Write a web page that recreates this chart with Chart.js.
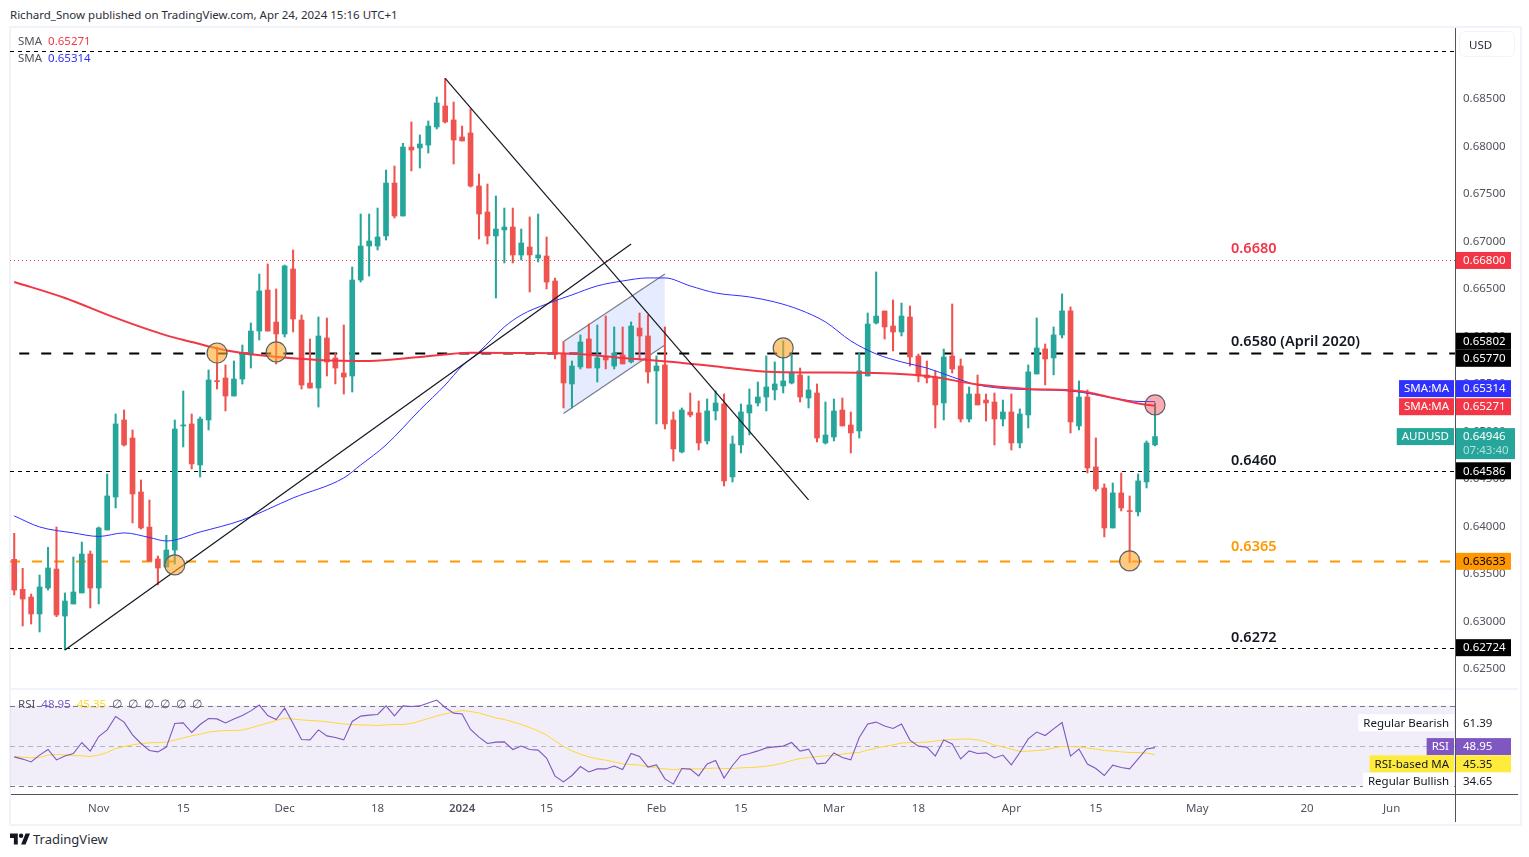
<!DOCTYPE html>
<html>
<head>
<meta charset="utf-8">
<title>AUDUSD</title>
<script src="https://cdn.jsdelivr.net/npm/chart.js@4"></script>
<style>
    html, body { margin: 0; padding: 0; background: #fff; }
    body { width: 1529px; height: 857px; position: relative; overflow: hidden; font-family: "Noto Sans", sans-serif; color: #50535e; }
    .abs { position: absolute; white-space: nowrap; }
    canvas { position: absolute; }
    .small { font-size: 11.5px; line-height: 14px; }
</style>
</head>
<body>
<div class="abs" style="left:9px;top:26px;width:1509px;height:796px;border:2px solid #f0f3fa"></div>
<div class="abs" style="left:11px;top:688px;width:1507px;height:2px;background:#f0f3fa"></div>

<div style="position:absolute;left:10px;top:28px;width:1509px;height:661px"><canvas id="price-chart"></canvas></div>
<div style="position:absolute;left:10px;top:690px;width:1509px;height:132px"><canvas id="rsi-chart"></canvas></div>

<div class="abs" style="left:1455px;top:28px;width:1px;height:794px;background:#50535e"></div>
<div class="abs" style="left:11px;top:794px;width:1507px;height:1px;background:#50535e"></div>

<div class="abs small" style="left:10px;top:8px;color:#2a2e39">Richard_Snow published on TradingView.com, Apr 24, 2024 15:16 UTC+1</div>
<div class="abs small" style="left:18px;top:34px">SMA&nbsp; <span style="color:#f23645">0.65271</span></div>
<div class="abs small" style="left:18px;top:51px">SMA&nbsp; <span style="color:#3030ff">0.65314</span></div>
<div class="abs small" style="left:18px;top:697px">RSI&nbsp; <span style="color:#7e57c2">48.95</span>&nbsp; <span style="color:#fdd835">45.35</span>&nbsp; &#8709;&nbsp; &#8709;&nbsp; &#8709;&nbsp; &#8709;&nbsp; &#8709;&nbsp; &#8709;</div>
<div class="abs small" style="left:1459px;top:31px;width:54px;height:24px;border:1px solid #f0f3fa;border-radius:6px;line-height:25px;text-indent:9px;color:#2a2e39">USD</div>

<svg class="abs" style="left:10px;top:833px" width="20" height="12" viewBox="0 0 36 20">
    <path fill="#131722" d="M14 20H7V8H0V0h14v20zM28 20h-8L28 0h8l-8 20z"></path>
    <circle fill="#131722" cx="20" cy="4" r="4"></circle>
</svg>
<div class="abs" style="left:33px;top:831px;font-size:13px;line-height:17px;color:#2a2e39">TradingView</div>

<script>
// x axis is one slot per trading day, with room on the right for the future dates
const dayCount = 171;
const days = Array.from({ length: dayCount }, (_, i) => i);
const tickDays = [10, 20, 32, 43, 53, 63, 76, 86, 97, 107, 118, 128, 140, 153, 163];
const tickLabels = ['Nov', '15', 'Dec', '18', '2024', '15', 'Feb', '15', 'Mar', '18', 'Apr', '15', 'May', '20', 'Jun'];
const priceTicks = [0.625, 0.63, 0.635, 0.64, 0.645, 0.65, 0.655, 0.66, 0.665, 0.67, 0.675, 0.68, 0.685];

const opens = [
    0.63654, 0.63338, 0.63257, 0.63079, 0.63352, 0.63552, 0.63057, 0.63184, 0.63300, 0.63710,
    0.63352, 0.63963, 0.64310, 0.65121, 0.64931, 0.64363, 0.63994, 0.63658, 0.63573, 0.63752,
    0.65058, 0.65079, 0.64647, 0.65121, 0.65531, 0.65563, 0.65373, 0.65552, 0.65805, 0.66057,
    0.66489, 0.66152, 0.66026, 0.66710, 0.66173, 0.65510, 0.65457, 0.65984, 0.65773, 0.65615,
    0.65584, 0.66594, 0.66952, 0.66952, 0.67058, 0.67615, 0.67268, 0.67994, 0.67984, 0.68015,
    0.68205, 0.68426, 0.68279, 0.68100, 0.68142, 0.67584, 0.67310, 0.67058, 0.67121, 0.67152,
    0.66858, 0.66942, 0.66826, 0.66847, 0.66584, 0.65823, 0.65500, 0.65679, 0.65974, 0.65668,
    0.65781, 0.65689, 0.65805, 0.65732, 0.66089, 0.66005, 0.65637, 0.65700, 0.65121, 0.64784,
    0.65205, 0.65195, 0.64900, 0.65216, 0.65289, 0.64521, 0.64858, 0.65195, 0.65300, 0.65363,
    0.65437, 0.65479, 0.65510, 0.65594, 0.65352, 0.65405, 0.64879, 0.64942, 0.65226, 0.65068,
    0.65005, 0.65584, 0.66142, 0.66268, 0.66110, 0.66047, 0.66205, 0.65794, 0.65594, 0.65573,
    0.65300, 0.65794, 0.65689, 0.65131, 0.65394, 0.65331, 0.65310, 0.65131, 0.65205, 0.64879,
    0.65174, 0.65605, 0.65869, 0.65774, 0.66016, 0.66269, 0.65058, 0.65363, 0.64627, 0.64405,
    0.63984, 0.64353, 0.64163, 0.64153, 0.64469, 0.64858
];
const highs = [
    0.63928, 0.63559, 0.63289, 0.63489, 0.63780, 0.63994, 0.63300, 0.63679, 0.63836, 0.63742,
    0.63994, 0.64552, 0.65184, 0.65226, 0.65016, 0.64489, 0.64279, 0.63689, 0.63907, 0.65121,
    0.65426, 0.65184, 0.65152, 0.65647, 0.65889, 0.65700, 0.65742, 0.65910, 0.66142, 0.66657,
    0.66763, 0.66500, 0.66752, 0.66910, 0.66226, 0.65973, 0.66205, 0.66194, 0.65822, 0.66121,
    0.66731, 0.67289, 0.67289, 0.67352, 0.67752, 0.67794, 0.68033, 0.68258, 0.68121, 0.68268,
    0.68521, 0.68717, 0.68468, 0.68215, 0.68394, 0.67710, 0.67605, 0.67479, 0.67352, 0.67352,
    0.67131, 0.67258, 0.67289, 0.67047, 0.66615, 0.65946, 0.65742, 0.66016, 0.66132, 0.66121,
    0.66216, 0.66100, 0.66100, 0.66153, 0.66247, 0.66226, 0.65795, 0.66100, 0.65205, 0.65247,
    0.65405, 0.65321, 0.65342, 0.65426, 0.65395, 0.64953, 0.65289, 0.65447, 0.65521, 0.65795,
    0.65732, 0.65953, 0.65805, 0.65668, 0.65584, 0.65500, 0.65310, 0.65342, 0.65352, 0.65205,
    0.65822, 0.66247, 0.66679, 0.66268, 0.66384, 0.66352, 0.66321, 0.65815, 0.65742, 0.65637,
    0.65868, 0.66342, 0.65763, 0.65468, 0.65594, 0.65394, 0.65405, 0.65331, 0.65395, 0.65237,
    0.65700, 0.66195, 0.65921, 0.66100, 0.66448, 0.66311, 0.65532, 0.65437, 0.64932, 0.64448,
    0.64458, 0.64563, 0.64321, 0.64553, 0.64900, 0.65300
];
const lows = [
    0.63279, 0.62952, 0.62973, 0.62889, 0.63331, 0.63050, 0.62700, 0.63184, 0.63300, 0.63142,
    0.63184, 0.63963, 0.64195, 0.64847, 0.64037, 0.63973, 0.63636, 0.63384, 0.63573, 0.63605,
    0.64837, 0.64605, 0.64521, 0.65016, 0.65447, 0.65216, 0.65373, 0.65499, 0.65668, 0.65963,
    0.66057, 0.65710, 0.65994, 0.66047, 0.65447, 0.65457, 0.65257, 0.65584, 0.65500, 0.65394,
    0.65415, 0.66573, 0.66636, 0.66910, 0.67015, 0.67247, 0.67268, 0.67742, 0.67773, 0.67931,
    0.68184, 0.68247, 0.67815, 0.68058, 0.67573, 0.67026, 0.66973, 0.66405, 0.66773, 0.66773,
    0.66805, 0.66468, 0.66784, 0.66500, 0.65763, 0.65247, 0.65247, 0.65658, 0.65668, 0.65521,
    0.65658, 0.65658, 0.65711, 0.65721, 0.65753, 0.65510, 0.65079, 0.65026, 0.64689, 0.64774,
    0.65153, 0.64805, 0.64868, 0.65121, 0.64426, 0.64468, 0.64774, 0.64963, 0.65268, 0.65216,
    0.65332, 0.65405, 0.65500, 0.65310, 0.65247, 0.64889, 0.64868, 0.64900, 0.65058, 0.64773,
    0.64931, 0.65584, 0.66131, 0.65973, 0.65847, 0.66005, 0.65689, 0.65521, 0.65510, 0.65037,
    0.65121, 0.65615, 0.65100, 0.65100, 0.65279, 0.65110, 0.64858, 0.65058, 0.64805, 0.64827,
    0.65037, 0.65605, 0.65490, 0.65595, 0.65984, 0.64984, 0.65016, 0.64563, 0.64374, 0.63890,
    0.63984, 0.64163, 0.63619, 0.64111, 0.64405, 0.64848
];
const closes = [
    0.63331, 0.63236, 0.63079, 0.63363, 0.63563, 0.63068, 0.63215, 0.63310, 0.63710, 0.63352,
    0.63984, 0.64321, 0.65079, 0.64858, 0.64342, 0.63984, 0.63636, 0.63563, 0.63752, 0.65026,
    0.65065, 0.64658, 0.65131, 0.65542, 0.65524, 0.65373, 0.65552, 0.65819, 0.66057, 0.66479,
    0.66057, 0.66026, 0.66742, 0.66184, 0.65489, 0.65457, 0.66005, 0.65731, 0.65668, 0.65573,
    0.66594, 0.66952, 0.67005, 0.67047, 0.67615, 0.67268, 0.67994, 0.67963, 0.68026, 0.68215,
    0.68458, 0.68258, 0.68068, 0.68058, 0.67584, 0.67289, 0.67058, 0.67131, 0.67152, 0.66858,
    0.66984, 0.66858, 0.66858, 0.66573, 0.65815, 0.65510, 0.65689, 0.65942, 0.65668, 0.65774,
    0.65753, 0.65826, 0.65711, 0.66110, 0.66005, 0.65626, 0.65689, 0.65079, 0.64816, 0.65226,
    0.65174, 0.64879, 0.65216, 0.65300, 0.64479, 0.64868, 0.65205, 0.65279, 0.65363, 0.65468,
    0.65500, 0.65532, 0.65626, 0.65363, 0.65437, 0.64931, 0.64963, 0.65215, 0.65058, 0.64984,
    0.65637, 0.66131, 0.66215, 0.66100, 0.66047, 0.66215, 0.65784, 0.65584, 0.65563, 0.65279,
    0.65784, 0.65658, 0.65131, 0.65394, 0.65279, 0.65300, 0.65131, 0.65205, 0.64879, 0.65184,
    0.65627, 0.65879, 0.65763, 0.66016, 0.66269, 0.65100, 0.65363, 0.64616, 0.64395, 0.63984,
    0.64353, 0.64195, 0.64156, 0.64479, 0.64879, 0.64946
];

// moving averages, every few sessions
const sma200Days = [0, 6, 12, 18, 21, 24, 27, 30, 36, 42, 48, 54, 60, 66, 72, 78, 84, 90, 96, 102, 108, 114, 120, 126, 130, 133, 135];
const sma200Values = [
    0.66574, 0.66405, 0.66195, 0.66011, 0.65942, 0.65874, 0.65826, 0.65795, 0.65753, 0.65742,
    0.65784, 0.65829, 0.65826, 0.65819, 0.65774, 0.65732, 0.65674, 0.65626, 0.65621, 0.65616,
    0.65584, 0.65495, 0.65447, 0.65426, 0.65353, 0.65295, 0.65271
];
const sma50Days = [0, 3, 7, 10, 13, 16, 18, 22, 27, 33, 39, 41, 44, 48, 51, 53, 55, 58, 60, 63, 66, 69, 72, 75, 77, 80, 83, 87, 90, 93, 96, 99, 102, 105, 108, 111, 114, 118, 125, 130, 133, 135];
const sma50Values = [
    0.64111, 0.63995, 0.63932, 0.63895, 0.63932, 0.63884, 0.63847, 0.63942, 0.64068, 0.64300,
    0.64511, 0.64647, 0.64858, 0.65226, 0.65489, 0.65689, 0.65837, 0.66100, 0.66226, 0.66342,
    0.66437, 0.66532, 0.66584, 0.66616, 0.66616, 0.66532, 0.66458, 0.66416, 0.66363, 0.66279,
    0.66153, 0.65953, 0.65816, 0.65732, 0.65668, 0.65574, 0.65490, 0.65447, 0.65426, 0.65353,
    0.65316, 0.65314
];

const rsiValues = [
    44.3, 43.2, 41.8, 45.2, 48, 42.8, 44.8, 46, 51.5, 47.2,
    54.5, 57.8, 64.5, 61.7, 55.3, 51, 47.5, 46.8, 49.2, 61,
    61.3, 56.5, 60.5, 63.5, 63.3, 61.3, 63.2, 65, 67.3, 70.2,
    65, 63, 68.7, 61, 53, 52.8, 57.8, 54.8, 54, 52.8,
    62, 64.7, 65.2, 65.5, 69.8, 64.8, 69.8, 69.5, 69.8, 71.2,
    72.7, 69, 66.2, 65.8, 58, 54.2, 51, 51.7, 51.8, 48,
    49.7, 48, 47.7, 43.7, 34.7, 31.8, 35, 39.5, 36.8, 38.3,
    38.3, 39.7, 38, 46, 44.5, 39.2, 40.3, 33.3, 30.7, 38.5,
    38.2, 34.8, 40.8, 42.5, 33.7, 40, 45, 46, 47.3, 48.8,
    49.3, 49.7, 51.5, 47.2, 48.2, 40.8, 41.2, 46.3, 44, 42.8,
    54, 60.8, 61.7, 59.7, 58.5, 60.8, 52.7, 49.7, 49.2, 44.7,
    52.8, 50.8, 43.3, 47.3, 46, 46.3, 43.8, 45.2, 40.3, 46.5,
    53.3, 56.7, 55, 58.3, 61.5, 44.7, 48.2, 40.7, 38.5, 35,
    40.2, 39, 38.3, 43.3, 48.3, 48.95
];
const rsiMaValues = [
    44.5, 44.2, 43.8, 44, 45.2, 45.5, 45.3, 45, 44.8, 44.5,
    45.2, 46.5, 48.5, 49.5, 50.3, 51, 51.3, 51.5, 51.7, 52.7,
    53.8, 54.8, 55.7, 56.7, 57.2, 57.5, 57.5, 57.7, 58.8, 60,
    61.2, 62.5, 63.7, 63.2, 62.8, 62.5, 62.3, 61.8, 61.3, 60.7,
    60.5, 60.3, 60.2, 60, 60.3, 60.5, 60.5, 61, 62.2, 63.5,
    64.7, 65.8, 66.7, 67.5, 67, 66.3, 65, 63.8, 63, 61.8,
    60.5, 59, 57.3, 55.2, 52.3, 49.5, 47.3, 45.7, 44.3, 43.3,
    42.7, 41.8, 40.8, 40.5, 40.2, 39.3, 38.8, 38.3, 38, 38.3,
    38.3, 38.3, 38.5, 38.7, 38.5, 38.5, 38.8, 39, 39.2, 39.7,
    40.3, 41.2, 42.5, 43.5, 44, 44.5, 44.8, 45, 45.7, 46.2,
    46.5, 47.7, 48.7, 49.5, 50.3, 51.2, 51.5, 51.5, 51.7, 52.2,
    52.8, 53, 53.2, 53.2, 52.8, 51.8, 50.2, 49.3, 48.2, 47,
    47.2, 47.5, 47.8, 48.8, 49.5, 49.5, 49.3, 48.7, 48.2, 47.5,
    47.2, 46.8, 46.5, 46.5, 46.2, 45.35
];

// drawn lines and touch markers
const supportDays = [6, 73];
const supportValues = [0.62700, 0.66974];
const resistanceDays = [51, 94];
const resistanceValues = [0.68717, 0.64279];
const channelDays = [65, 77];
const channelTopValues = [0.65946, 0.66658];
const channelBottomValues = [0.65189, 0.65911];
const markerDays = [19, 24, 31, 91, 132];
const markerValues = [0.63595, 0.65826, 0.65837, 0.65879, 0.63637];
const lastMarkerDays = [135];
const lastMarkerValues = [0.65279];

const levelValues = [0.69005, 0.66805, 0.65823, 0.64586, 0.63633, 0.62724];
const levelLabels = ['', '0.6680', '0.6580 (April 2020)', '0.6460', '0.6365', '0.6272'];

const priceTagValues = [0.66800, 0.65802, 0.65770, 0.65314, 0.65271, 0.64946, 0.64586, 0.63633, 0.62724];
const priceTagTexts = ['0.66800', '0.65802', '0.65770', '0.65314', '0.65271', '0.64946', '0.64586', '0.63633', '0.62724'];
const rsiTagValues = [61.39, 48.95, 45.35, 34.65];
const rsiTagTexts = ['61.39', '48.95', '45.35', '34.65'];

const GREEN = '#26a69a';
const RED = '#ef5350';
const AXIS_TEXT = '#50535e';
const FONT = '"Noto Sans", sans-serif';

// Put sparse readings onto the day slots, gaps are spanned by the line
function onDays(dayList, valueList) {
    const out = days.map(() => null);
    dayList.forEach((d, i) => { out[d] = valueList[i]; });
    return out;
}

function pad(arr) {
    return days.map((_, i) => (i < arr.length ? arr[i] : null));
}

function straight(dayList, valueList, color, width) {
    return {
        type: 'line',
        data: onDays(dayList, valueList),
        borderColor: color,
        borderWidth: width,
        pointRadius: 0,
        spanGaps: true,
        order: 2
    };
}

function fixAxis(size) {
    return function(scale) {
        if (scale.isHorizontal()) {
            scale.height = size;
        } else {
            scale.width = size;
        }
        scale.paddingTop = 0;
        scale.paddingBottom = 0;
        scale.paddingLeft = 0;
        scale.paddingRight = 0;
    };
}

// Value box on the right axis, optional name box to its left
function drawTag(ctx, area, y, tag) {
    const left = area.right + 1;
    const right = tag.wide ? left + 59 : left + 55;
    const h = 17;
    ctx.save();
    ctx.font = '11.5px ' + FONT;
    ctx.textBaseline = 'middle';
    if (tag.bg) {
        ctx.fillStyle = tag.bg;
        ctx.fillRect(left, y - h / 2, right - left, tag.extra ? h + 14 : h);
    }
    ctx.fillStyle = tag.fg;
    ctx.textAlign = 'left';
    ctx.fillText(tag.text, left + 7, y + 0.5);
    if (tag.extra) {
        ctx.fillStyle = 'rgba(255,255,255,0.65)';
        ctx.fillText(tag.extra, left + 7, y + 14.5);
    }
    if (tag.name) {
        const w = ctx.measureText(tag.name).width + 10;
        ctx.fillStyle = tag.nameBg || tag.bg;
        ctx.fillRect(area.right - 1 - w, y - h / 2, w, h);
        ctx.fillStyle = tag.nameFg || tag.fg;
        ctx.textAlign = 'right';
        ctx.fillText(tag.name, area.right - 6, y + 0.5);
    }
    ctx.restore();
}

const priceOverlay = {
    id: 'priceOverlay',
    beforeDatasetsDraw(chart) {
        const { ctx, chartArea: area, scales: { x, y } } = chart;
        const styles = [
            { color: '#000', width: 1, dash: [4, 4], from: area.left },
            { color: '#f23645', width: 1, dash: [1, 3], from: area.left },
            { color: '#000', width: 2, dash: [10, 12], from: x.getPixelForValue(0) + 5 },
            { color: '#000', width: 1, dash: [4, 4], from: area.left },
            { color: '#ff9800', width: 2, dash: [10, 12], from: area.left },
            { color: '#000', width: 1, dash: [4, 4], from: area.left }
        ];
        ctx.save();
        levelValues.forEach((v, i) => {
            const s = styles[i];
            const py = Math.round(y.getPixelForValue(v)) + 0.5;
            ctx.beginPath();
            ctx.strokeStyle = s.color;
            ctx.lineWidth = s.width;
            ctx.setLineDash(s.dash);
            ctx.moveTo(s.from, py);
            ctx.lineTo(area.right, py);
            ctx.stroke();
        });
        ctx.restore();
    },
    afterDraw(chart) {
        const { ctx, chartArea: area, scales: { x, y } } = chart;
        const labelColors = ['', '#f23645', '#131722', '#131722', '#ff9800', '#131722'];
        const labelLift = [0, 11, 11, 10, 14, 10];
        ctx.save();
        ctx.font = '600 14.5px ' + FONT;
        ctx.textBaseline = 'middle';
        ctx.textAlign = 'left';
        levelLabels.forEach((t, i) => {
            if (!t) return;
            ctx.fillStyle = labelColors[i];
            ctx.fillText(t, x.getPixelForValue(144), y.getPixelForValue(levelValues[i]) - labelLift[i]);
        });
        ctx.restore();

        const looks = [
            { bg: '#f23645', fg: '#fff' },
            { bg: '#000', fg: '#fff', nudge: -14 },
            { bg: '#000', fg: '#fff' },
            { bg: '#3030ff', fg: '#fff', name: 'SMA:MA', nudge: -13 },
            { bg: '#f23645', fg: '#fff', name: 'SMA:MA', nudge: 1 },
            { bg: GREEN, fg: '#fff', name: 'AUDUSD', extra: '07:43:40', wide: true },
            { bg: '#000', fg: '#fff' },
            { bg: '#ff9800', fg: '#000' },
            { bg: '#000', fg: '#fff' }
        ];
        priceTagValues.forEach((v, i) => {
            const look = looks[i];
            drawTag(ctx, area, y.getPixelForValue(v) + (look.nudge || 0), Object.assign({ text: priceTagTexts[i] }, look));
        });
    }
};

const rsiOverlay = {
    id: 'rsiOverlay',
    beforeDatasetsDraw(chart) {
        const { ctx, chartArea: area, scales: { y } } = chart;
        const top = y.getPixelForValue(70);
        const bottom = y.getPixelForValue(30);
        ctx.save();
        ctx.fillStyle = 'rgba(126,87,194,0.1)';
        ctx.fillRect(area.left, top, area.right - area.left, bottom - top);
        [[70, '#787b86'], [50, '#b2b5be'], [30, '#787b86']].forEach(([v, color]) => {
            const py = Math.round(y.getPixelForValue(v)) + 0.5;
            ctx.beginPath();
            ctx.strokeStyle = color;
            ctx.lineWidth = 1;
            ctx.setLineDash([5, 4]);
            ctx.moveTo(area.left, py);
            ctx.lineTo(area.right, py);
            ctx.stroke();
        });
        ctx.restore();
    },
    afterDraw(chart) {
        const { ctx, chartArea: area, scales: { y } } = chart;
        const looks = [
            { fg: '#131722', name: 'Regular Bearish', nameBg: '#fff', nameFg: '#131722' },
            { bg: '#7e57c2', fg: '#fff', name: 'RSI', nudge: -1 },
            { bg: '#ffeb3b', fg: '#131722', name: 'RSI-based MA', nudge: 9 },
            { fg: '#131722', name: 'Regular Bullish', nameBg: '#fff', nameFg: '#131722', nudge: 5 }
        ];
        rsiTagValues.forEach((v, i) => {
            const look = looks[i];
            drawTag(ctx, area, y.getPixelForValue(v) + (look.nudge || 0), Object.assign({ text: rsiTagTexts[i] }, look));
        });
    }
};

const candleColors = closes.map((c, i) => (c >= opens[i] ? GREEN : RED));

new Chart(document.getElementById('price-chart'), {
    type: 'bar',
    data: {
        labels: days,
        datasets: [
            {
                type: 'line',
                data: onDays(channelDays, channelTopValues),
                borderColor: 'rgba(80,83,94,0.75)',
                borderWidth: 1.2,
                pointRadius: 0,
                spanGaps: true,
                fill: '+1',
                backgroundColor: 'rgba(41,98,255,0.12)',
                order: 6
            },
            {
                type: 'line',
                data: onDays(channelDays, channelBottomValues),
                borderColor: 'rgba(80,83,94,0.75)',
                borderWidth: 1.2,
                pointRadius: 0,
                spanGaps: true,
                order: 6
            },
            {
                // wicks
                data: pad(lows.map((l, i) => [l, highs[i]])),
                backgroundColor: candleColors,
                barThickness: 1.4,
                grouped: false,
                order: 5
            },
            {
                // bodies
                data: pad(opens.map((o, i) => [o, closes[i]])),
                backgroundColor: candleColors,
                barThickness: 5,
                minBarLength: 1,
                grouped: false,
                order: 4
            },
            {
                type: 'line',
                data: onDays(sma50Days, sma50Values),
                borderColor: '#3030ff',
                borderWidth: 1,
                pointRadius: 0,
                spanGaps: true,
                cubicInterpolationMode: 'monotone',
                order: 3.5
            },
            {
                type: 'line',
                data: onDays(sma200Days, sma200Values),
                borderColor: '#f23645',
                borderWidth: 2,
                pointRadius: 0,
                spanGaps: true,
                cubicInterpolationMode: 'monotone',
                order: 3
            },
            straight(supportDays, supportValues, '#131722', 1.2),
            straight(resistanceDays, resistanceValues, '#131722', 1.2),
            {
                type: 'line',
                data: onDays(markerDays, markerValues),
                showLine: false,
                pointRadius: 10,
                pointBackgroundColor: 'rgba(255,167,38,0.6)',
                pointBorderColor: '#5d606b',
                pointBorderWidth: 1.2,
                order: 1
            },
            {
                type: 'line',
                data: onDays(lastMarkerDays, lastMarkerValues),
                showLine: false,
                pointRadius: 10,
                pointBackgroundColor: 'rgba(242,54,69,0.42)',
                pointBorderColor: '#5d606b',
                pointBorderWidth: 1.2,
                order: 1
            }
        ]
    },
    options: {
        responsive: true,
        maintainAspectRatio: false,
        animation: false,
        layout: { padding: 0, autoPadding: false },
        plugins: { legend: { display: false }, tooltip: { enabled: false } },
        scales: {
            x: { display: false, offset: true, grid: { display: false } },
            y: {
                position: 'right',
                min: 0.62289,
                max: 0.69247,
                grid: { display: false, drawTicks: false },
                border: { display: false },
                afterFit: fixAxis(64),
                afterBuildTicks(axis) { axis.ticks = priceTicks.map(value => ({ value })); },
                ticks: {
                    color: AXIS_TEXT,
                    padding: 8,
                    font: { family: FONT, size: 11.5 },
                    callback: value => value.toFixed(5)
                }
            }
        }
    },
    plugins: [priceOverlay]
});

new Chart(document.getElementById('rsi-chart'), {
    type: 'line',
    data: {
        labels: days,
        datasets: [
            { data: pad(rsiMaValues), borderColor: '#fdd835', borderWidth: 1, pointRadius: 0, order: 2 },
            { data: pad(rsiValues), borderColor: '#7e57c2', borderWidth: 1.1, pointRadius: 0, order: 1 }
        ]
    },
    options: {
        responsive: true,
        maintainAspectRatio: false,
        animation: false,
        layout: { padding: 0, autoPadding: false },
        plugins: { legend: { display: false }, tooltip: { enabled: false } },
        scales: {
            x: {
                offset: true,
                grid: { display: false, drawTicks: false },
                border: { display: false },
                afterFit: fixAxis(28),
                ticks: {
                    autoSkip: false,
                    maxRotation: 0,
                    padding: 8,
                    color: AXIS_TEXT,
                    font: ctx => ({ family: FONT, size: 11.5, weight: ctx.index === 53 ? '600' : 'normal' }),
                    callback: value => {
                        const at = tickDays.indexOf(value);
                        return at >= 0 ? tickLabels[at] : '';
                    }
                }
            },
            y: {
                position: 'right',
                min: 25.75,
                max: 77.75,
                grid: { display: false, drawTicks: false },
                border: { display: false },
                afterFit: fixAxis(64),
                ticks: { callback: () => '' }
            }
        }
    },
    plugins: [rsiOverlay]
});
</script>
</body>
</html>
